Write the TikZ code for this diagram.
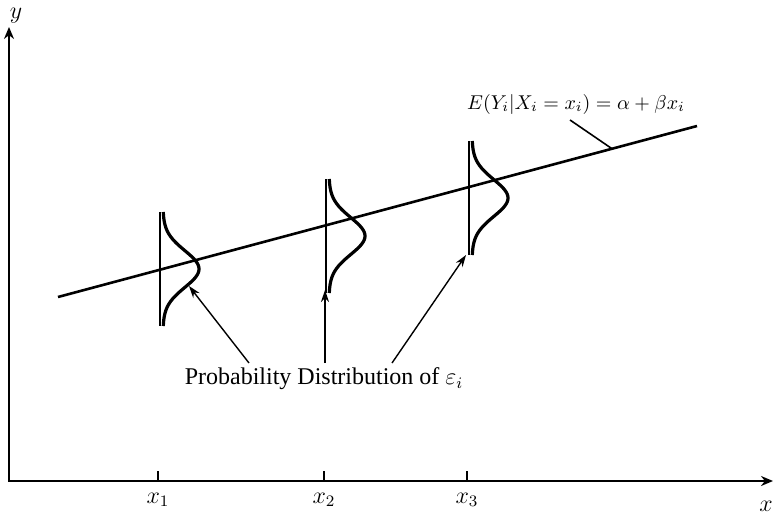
\documentclass[tikz,border=0pt]{standalone}
\usepackage{fontspec}
\setmainfont{Liberation Serif}
\usetikzlibrary{arrows.meta,calc}

\begin{document}
\begin{tikzpicture}[
  x=0.5pt, y=-0.5pt,
  axis/.style={line width=1pt, {Stealth[length=6pt,width=5pt]}-{Stealth[length=6pt,width=5pt]}},
  regline/.style={line width=1.3pt},
  curve/.style={line width=1.6pt},
  stem/.style={line width=0.9pt},
  pointer/.style={line width=0.7pt, -{Stealth[length=6pt,width=4pt]}},
  lbl/.style={font=\large}
]
  \useasboundingbox (0,0) rectangle (774,519);
  % Axes
  \coordinate (O) at (9,481);
  \coordinate (ytop) at (9,27);
  \coordinate (xend) at (773,481);
  \draw[axis] (ytop) |- (xend);
  \node[lbl] (ylab) at (16,16) {$y$};
  \node[lbl] (xlab) at (766,506) {$x$};
  % Ticks and bell curves
  \foreach \x/\c/\n in {158/269/1, 324/236/2, 467/198/3} {
    \coordinate (T\n) at (\x,481);
    \draw[line width=0.8pt] (T\n) -- ++(0,-10);
    \node[lbl] (x\n lab) at (\x,500) {$x_{\n}$};
    \coordinate (S\n) at (\x+2,\c);
    \draw[stem] ($(S\n)+(0,-57)$) -- ($(S\n)+(0,57)$);
    \draw[curve] plot[variable=\t, domain=-57:57, samples=70, smooth]
      ({\x+5+36*exp(-(\t/26)*(\t/26))}, {\c+\t});
  }
  % Regression line
  \coordinate (rA) at (58,297);
  \coordinate (rB) at (697,126);
  \draw[regline] (rA) -- (rB);
  \node[anchor=base] (eq) at (576,109) {$E(Y_i|X_i = x_i) = \alpha + \beta x_i$};
  \coordinate (lp) at ($(rA)!0.867!(rB)$);
  \draw[line width=0.8pt] (570,120) -- (lp);
  % Pointer label
  \node[lbl] (pd) at (324,379) {Probability Distribution of $\varepsilon_i$};
  \coordinate (a1) at (249,363);
  \coordinate (a2) at (325,363);
  \coordinate (a3) at (392,363);
  \coordinate (t1) at (189,286);
  \coordinate (t2) at (325,290);
  \coordinate (t3) at (466,255);
  \draw[pointer] (a1) -- (t1);
  \draw[pointer] (a2) -- (t2);
  \draw[pointer] (a3) -- (t3);
\end{tikzpicture}
\end{document}
